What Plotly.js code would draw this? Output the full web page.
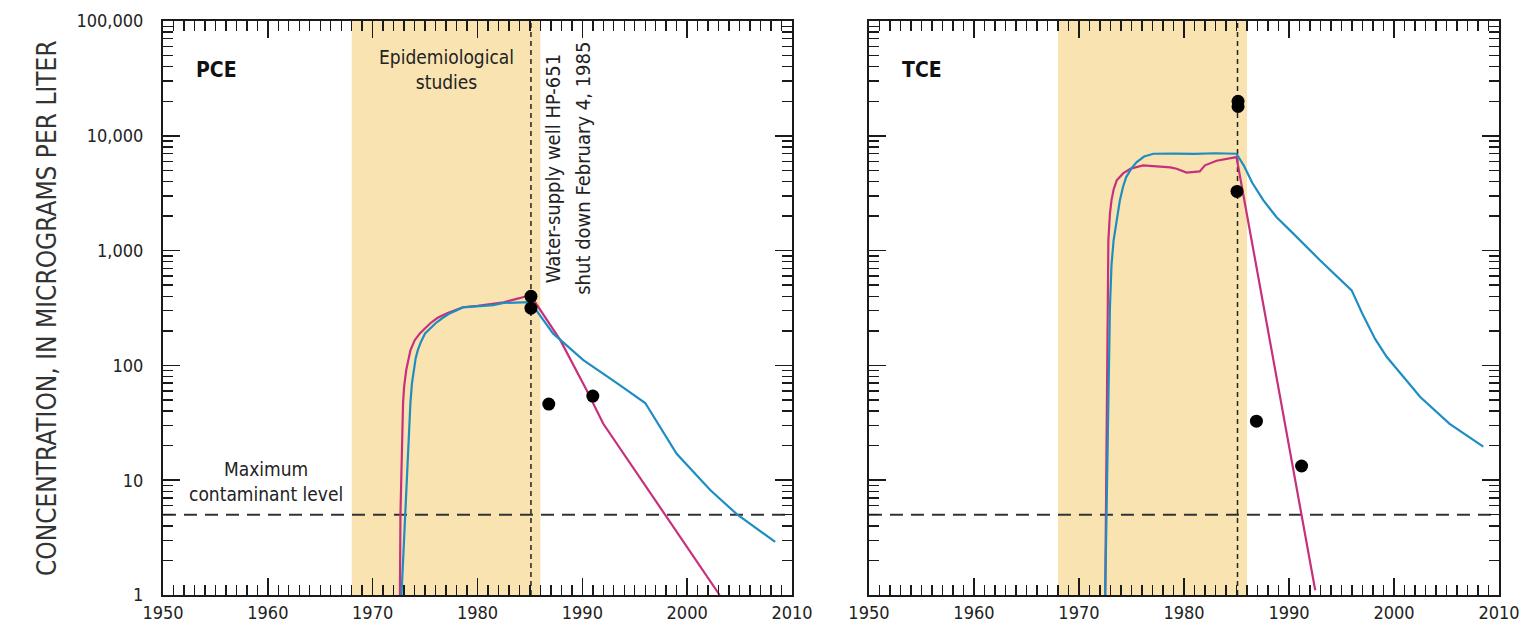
<!DOCTYPE html>
<html>
<head>
<meta charset="utf-8">
<script src="https://cdn.plot.ly/plotly-3.0.1.min.js"></script>
<style>html,body{margin:0;padding:0;background:#fff;}#chart{width:1526px;height:637px;}</style>
</head>
<body>
<div id="chart"></div>
<script>
// ---- Data ----
// PCE panel
const pceMagentaYears = [1972.6, 1972.65, 1972.9, 1973.0, 1973.2, 1973.4, 1973.6, 1974.0, 1974.5, 1975.5, 1976.2, 1977.1, 1978.6, 1980.0, 1981.2, 1982.5, 1984.0, 1985.05, 1987.9, 1990.4, 1992.0, 1997.9, 2003.1];
const pceMagentaConc  = [1, 5, 47, 65, 91, 115, 135, 165, 190, 233, 260, 285, 321, 330, 340, 355, 385, 410, 166, 61, 31, 5, 1];
const pceBlueYears = [1972.75, 1973.1, 1973.35, 1973.6, 1973.75, 1973.9, 1974.1, 1974.3, 1974.6, 1975.0, 1975.5, 1976.0, 1976.7, 1977.4, 1978.6, 1980.0, 1981.5, 1982.5, 1984.0, 1985.05, 1987.2, 1990.1, 1993.3, 1996.0, 1999.0, 2002.2, 2004.8, 2008.4];
const pceBlueConc  = [1, 5, 20, 47, 70, 91, 115, 135, 160, 190, 212, 233, 260, 285, 320, 325, 335, 350, 350, 355, 190, 111, 70, 47, 17, 8.2, 5, 2.9];
const pceObsYears = [1985.1, 1985.1, 1986.8, 1991.0];
const pceObsConc  = [400, 315, 46, 54];

// TCE panel
const tceMagentaYears = [1972.5, 1972.63, 1972.7, 1972.8, 1972.95, 1973.1, 1973.3, 1973.6, 1974.2, 1974.9, 1976.1, 1978.7, 1979.3, 1980.25, 1981.5, 1982.0, 1983.1, 1985.0, 1992.5];
const tceMagentaConc  = [1, 31, 300, 1230, 2100, 2750, 3400, 4100, 4700, 5160, 5530, 5300, 5160, 4780, 4900, 5530, 6070, 6530, 1.1];
const tceBlueYears = [1972.5, 1972.8, 1972.95, 1973.1, 1973.3, 1973.6, 1973.9, 1974.2, 1974.5, 1975.0, 1975.5, 1976.2, 1977.1, 1979.0, 1981.0, 1983.0, 1985.0, 1985.7, 1986.5, 1987.55, 1988.8, 1990.1, 1992.95, 1995.97, 1997.0, 1998.2, 1999.3, 2002.5, 2005.3, 2008.5];
const tceBlueConc  = [1, 43, 322, 750, 1230, 1840, 2750, 3600, 4370, 5200, 5900, 6600, 6980, 7000, 6950, 7050, 6980, 5500, 3900, 2750, 1960, 1500, 825, 450, 280, 170, 119, 53, 31, 19.6];
const tceObsYears = [1985.15, 1985.15, 1985.05, 1986.9, 1991.2];
const tceObsConc  = [20000, 18000, 3280, 32.7, 13.3];

// Reference values
const studyPeriod = [1968, 1986];
const wellShutdown = 1985.1;
const mcl = 5;
const panelLabels = ['PCE', 'TCE'];

// ---- Styles ----
const FONT = 'DejaVu Sans Condensed, Liberation Sans Narrow, Arial Narrow, sans-serif';
const MAG = '#C6307D';
const BLU = '#1E8DC2';
const BAND = '#F9E3B1';
const AX = '#1a1a1a';

function lineTrace(x, y, color, xa, ya) {
  return {x: x, y: y, xaxis: xa, yaxis: ya, type: 'scatter', mode: 'lines',
          line: {color: color, width: 2.2}, showlegend: false};
}
function dotTrace(x, y, xa, ya) {
  return {x: x, y: y, xaxis: xa, yaxis: ya, type: 'scatter', mode: 'markers',
          marker: {color: '#000', size: 13}, showlegend: false};
}

const traces = [
  lineTrace(pceMagentaYears, pceMagentaConc, MAG, 'x', 'y'),
  lineTrace(pceBlueYears, pceBlueConc, BLU, 'x', 'y'),
  dotTrace(pceObsYears, pceObsConc, 'x', 'y'),
  lineTrace(tceMagentaYears, tceMagentaConc, MAG, 'x2', 'y2'),
  lineTrace(tceBlueYears, tceBlueConc, BLU, 'x2', 'y2'),
  dotTrace(tceObsYears, tceObsConc, 'x2', 'y2')
];

function xAxis(domain, anchor) {
  return {
    domain: domain, anchor: anchor, range: [1950, 2010], type: 'linear',
    tickmode: 'linear', tick0: 1950, dtick: 10, ticks: 'inside', ticklen: 17, tickwidth: 1.6, tickcolor: AX,
    minor: {tickmode: 'linear', tick0: 1950, dtick: 1, ticks: 'inside', ticklen: 10, tickwidth: 1.4, tickcolor: AX, showgrid: false},
    showline: true, linecolor: AX, linewidth: 2, mirror: 'ticks',
    showgrid: false, zeroline: false, fixedrange: true,
    tickfont: {family: FONT, size: 18, color: '#222'}
  };
}
function yAxis(anchor, showLabels) {
  return {
    anchor: anchor, type: 'log', range: [0, 5], dtick: 1, tickformat: ',d',
    ticks: 'inside', ticklen: 17, tickwidth: 1.6, tickcolor: AX,
    minor: {dtick: 'D1', ticks: 'inside', ticklen: 10, tickwidth: 1.4, tickcolor: AX, showgrid: false},
    showline: true, linecolor: AX, linewidth: 2, mirror: 'ticks',
    showgrid: false, zeroline: false, fixedrange: true, showticklabels: showLabels,
    tickfont: {family: FONT, size: 18, color: '#222'}, ticklabelstandoff: 14
  };
}

const shapes = [];
[['x', 'y'], ['x2', 'y2']].forEach(function(p) {
  shapes.push({type: 'rect', xref: p[0], yref: p[1] + ' domain', x0: studyPeriod[0], x1: studyPeriod[1], y0: 0, y1: 1,
               fillcolor: BAND, line: {width: 0}, layer: 'below'});
  shapes.push({type: 'line', xref: p[0] + ' domain', yref: p[1], x0: 0, x1: 1, y0: mcl, y1: mcl,
               line: {color: '#333', width: 2, dash: '13px,8px'}, layer: 'below'});
  shapes.push({type: 'line', xref: p[0], yref: p[1] + ' domain', x0: wellShutdown, x1: wellShutdown, y0: 0, y1: 1,
               line: {color: '#222', width: 1.5, dash: '5px,4px'}, layer: 'below'});
});

const txt = {family: FONT, size: 19, color: '#222'};
const vtxt = {family: FONT, size: 20, color: '#222'};
const annotations = [
  {xref: 'x', yref: 'y', x: 1955.1, y: 4.57, text: '<b>' + panelLabels[0] + '</b>', showarrow: false,
   font: {family: FONT, size: 21, color: '#111'}},
  {xref: 'x2', yref: 'y2', x: 1955.1, y: 4.57, text: '<b>' + panelLabels[1] + '</b>', showarrow: false,
   font: {family: FONT, size: 21, color: '#111'}},
  {xref: 'x', yref: 'y', x: 1977, y: 4.58, text: 'Epidemiological<br>studies', showarrow: false, font: txt},
  {xref: 'x', yref: 'y', x: 1959.85, y: 0.99, text: 'Maximum<br>contaminant level', showarrow: false, font: txt},
  {xref: 'x', yref: 'y', x: 1987.2, y: 3.716, text: 'Water-supply well HP-651', showarrow: false,
   textangle: -90, font: vtxt},
  {xref: 'x', yref: 'y', x: 1990.1, y: 3.716, text: 'shut down February 4, 1985', showarrow: false,
   textangle: -90, font: vtxt},
  {xref: 'paper', yref: 'paper', x: -0.0995, y: 0.5, text: 'CONCENTRATION, IN MICROGRAMS PER LITER', showarrow: false,
   textangle: -90, font: {family: FONT, size: 26, color: '#333'}}
];

const layout = {
  width: 1526, height: 637,
  margin: {l: 163, r: 27, t: 21, b: 42},
  paper_bgcolor: '#fff', plot_bgcolor: 'rgba(0,0,0,0)',
  showlegend: false,
  xaxis: xAxis([0, 0.4708], 'y'),
  yaxis: yAxis('x', true),
  xaxis2: xAxis([0.5284, 1], 'y2'),
  yaxis2: yAxis('x2', false),
  shapes: shapes,
  font: {family: FONT, color: '#222'}
};

// Draw the plot first, then add the text annotations, then refresh the x-axis ticks.
Plotly.newPlot('chart', traces, layout, {displayModeBar: false, staticPlot: true})
  .then(function(gd) { return Plotly.relayout(gd, {annotations: annotations}); })
  .then(function(gd) { return Plotly.relayout(gd, {'xaxis.ticklen': 17, 'xaxis2.ticklen': 17}); });
</script>
</body>
</html>
